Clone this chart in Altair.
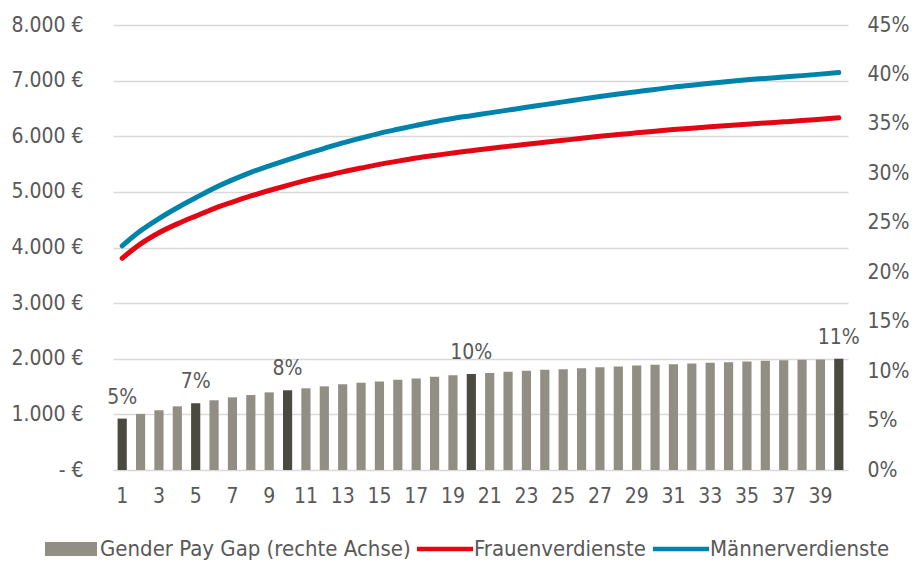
import altair as alt
import pandas as pd

# ---- data ----
years = list(range(1, 41))
gap_pct = [5.2, 5.67, 6.04, 6.44, 6.75, 7.05, 7.35, 7.58, 7.85, 8.06,
           8.26, 8.46, 8.66, 8.83, 8.96, 9.13, 9.26, 9.43, 9.57, 9.70,
           9.80, 9.93, 10.03, 10.14, 10.20, 10.30, 10.40, 10.47, 10.57, 10.64,
           10.70, 10.77, 10.84, 10.90, 10.97, 11.04, 11.10, 11.14, 11.17, 11.24]
frauen = [3807, 4065, 4265, 4425, 4565, 4700, 4816, 4926, 5025, 5118,
          5207, 5285, 5360, 5428, 5494, 5553, 5608, 5654, 5700, 5740,
          5781, 5818, 5855, 5891, 5927, 5963, 6000, 6031, 6061, 6091,
          6120, 6144, 6169, 6193, 6216, 6238, 6259, 6281, 6306, 6331]
maenner = [4030, 4300, 4520, 4715, 4893, 5067, 5216, 5352, 5467, 5577,
           5682, 5782, 5880, 5968, 6052, 6125, 6195, 6262, 6320, 6370,
           6420, 6470, 6520, 6569, 6618, 6667, 6716, 6760, 6801, 6842,
           6883, 6917, 6951, 6985, 7015, 7040, 7065, 7090, 7117, 7146]
highlight_years = [1, 5, 10, 20, 40]
highlight_labels = ["5%", "7%", "8%", "10%", "11%"]
x_tick_labels = list(range(1, 40, 2))

series_names = ["Gender Pay Gap (rechte Achse)", "Frauenverdienste", "Männerverdienste"]
series_colors = ["#918F83", "#E30613", "#0083AB"]

FONT = "Liberation Sans Narrow, Arial Narrow, DejaVu Sans Condensed, Roboto, sans-serif"
TXT = "#595959"
FS = 21

bars = pd.DataFrame({
    "Jahr": years,
    "gap": gap_pct,
    "hl": [y in highlight_years for y in years],
})
labels = pd.DataFrame({
    "Jahr": highlight_years,
    "gap": [gap_pct[y - 1] for y in highlight_years],
    "label": highlight_labels,
})
lines = pd.DataFrame({
    "Jahr": years * 2,
    "wert": frauen + maenner,
    "serie": [series_names[1]] * 40 + [series_names[2]] * 40,
})
legend_df = pd.DataFrame({"serie": series_names})

x_enc = alt.X("Jahr:O",
              scale=alt.Scale(paddingInner=0.5, paddingOuter=0.25),
              axis=alt.Axis(values=x_tick_labels, labelAngle=0, title=None,
                            ticks=False, domain=False, labelPadding=15,
                            labelFont=FONT, labelFontSize=FS, labelColor=TXT))

color_scale = alt.Scale(domain=series_names, range=series_colors)
shape_scale = alt.Scale(domain=series_names,
                        range=["M-1,-0.27H1V0.27H-1Z",
                               "M-1.08,-0.09H1.08V0.09H-1.08Z",
                               "M-1.08,-0.09H1.08V0.09H-1.08Z"])
legend_spec = alt.Legend(title=None, orient="none", direction="horizontal",
                         legendX=-68, legendY=498,
                         symbolSize=2700, symbolOpacity=1,
                         symbolStrokeWidth=0,
                         labelFont=FONT, labelFontSize=22, labelColor=TXT,
                         labelOffset=3, columnPadding=5,
                         labelLimit=400)

left_axis = alt.Axis(values=list(range(0, 8001, 1000)), title=None,
                     orient="left", ticks=False, domain=False,
                     labelPadding=30, grid=True, gridColor="#D9D9D9",
                     gridWidth=1.5,
                     labelExpr="datum.value == 0 ? '- €' : replace(format(datum.value, ',.0f'), ',', '.') + ' €'",
                     labelFont=FONT, labelFontSize=FS, labelColor=TXT)
right_axis = alt.Axis(values=list(range(0, 46, 5)), title=None, orient="right",
                      ticks=False, domain=False, grid=False, labelPadding=19,
                      labelExpr="datum.value + '%'",
                      labelFont=FONT, labelFontSize=FS, labelColor=TXT)

line_layer = alt.Chart(lines).mark_line(strokeWidth=5, strokeCap="round",
                                        interpolate="monotone").encode(
    x=x_enc,
    y=alt.Y("wert:Q", scale=alt.Scale(domain=[0, 8000]), axis=left_axis),
    color=alt.Color("serie:N", scale=color_scale, legend=legend_spec),
)

legend_layer = alt.Chart(legend_df).mark_point(filled=True, opacity=0).encode(
    color=alt.Color("serie:N", scale=color_scale, legend=legend_spec),
    shape=alt.Shape("serie:N", scale=shape_scale, legend=legend_spec),
)

bar_layer = alt.Chart(bars).mark_bar().encode(
    x=x_enc,
    y=alt.Y("gap:Q", scale=alt.Scale(domain=[0, 45]), axis=right_axis),
    color=alt.condition("datum.hl", alt.value("#4A4A40"), alt.value("#918F83")),
)

text_layer = alt.Chart(labels).mark_text(baseline="middle", dy=-21, font=FONT,
                                         fontSize=FS, color=TXT).encode(
    x=x_enc,
    y=alt.Y("gap:Q", scale=alt.Scale(domain=[0, 45]), axis=right_axis),
    text="label:N",
)

left = alt.layer(line_layer, legend_layer)
right = alt.layer(bar_layer, text_layer)

chart = alt.layer(right, left).resolve_scale(y="independent").properties(
    width=735, height=445,
    autosize=alt.AutoSizeParams(type="none"),
    padding={"left": 105, "top": 17, "right": 61, "bottom": 92},
).configure_view(stroke=None)

chart.save("out.html", embed_options={"renderer": "svg", "actions": False})
